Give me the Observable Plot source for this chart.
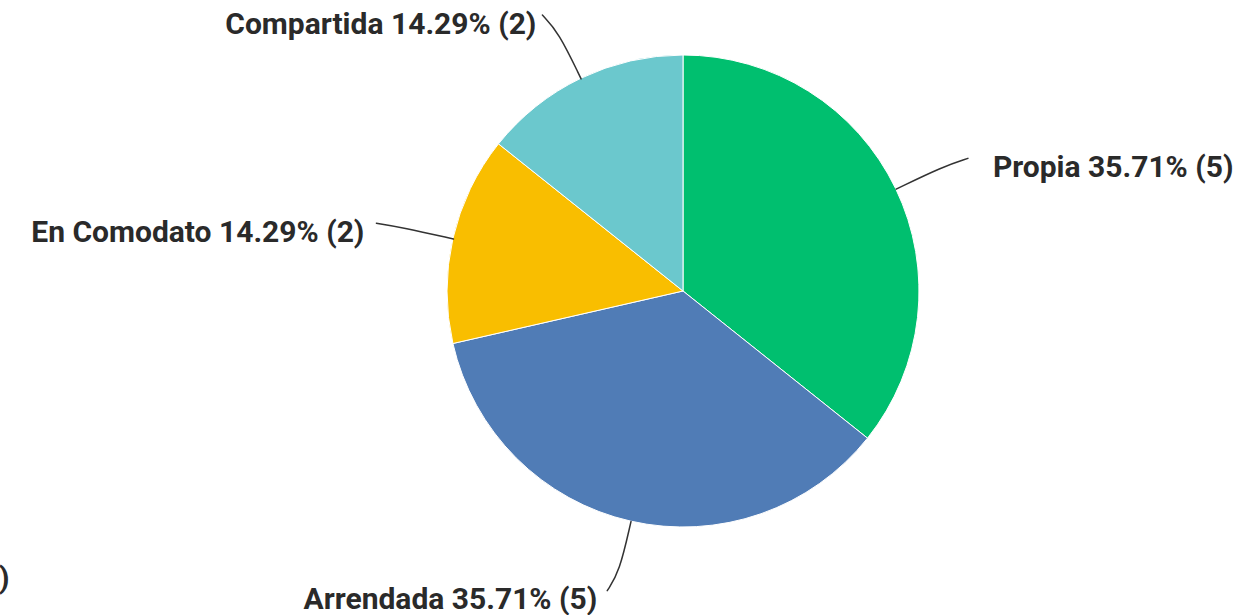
<!DOCTYPE html>
<html><head><meta charset="utf-8">
<script src="https://cdn.jsdelivr.net/npm/d3@7"></script>
<script src="https://cdn.jsdelivr.net/npm/@observablehq/plot@0.6"></script>
<style>html,body{margin:0;padding:0;background:#fff;overflow:hidden;}</style>
</head>
<body><div id="chart"></div>
<script>
// Data
const categories = ["Propia", "Arrendada", "En Comodato", "Compartida"];
const counts = [5, 5, 2, 2];
const colors = ["#00bf6f", "#507cb6", "#f9be00", "#6bc8cd"];

// Layout (pixels / relative radii, not data)
const W = 1258, H = 615, CX = 683, CY = 291, R = 236;
const CTRL_R = 1.22, END_R = 1.30, END_SHIFT = 8;
const labelGap = [25, 10, 12, 6];   // gap between leader end and label, px

const total = d3.sum(counts);
const pieArcs = d3.pie().sort(null).value(d => d)(counts);
const slices = categories.map((c, i) => {
  const mid = (pieArcs[i].startAngle + pieArcs[i].endAngle) / 2;
  const side = Math.sin(mid) > 0 ? 1 : -1;
  return {
    category: c, count: counts[i], pct: counts[i] / total * 100,
    start: pieArcs[i].startAngle, end: pieArcs[i].endAngle, mid, side,
    gap: labelGap[i]
  };
});
const polar = (a, r) => ({x: r * Math.sin(a), y: r * Math.cos(a)});
const endPoint = d => {
  const p = polar(d.mid, END_R);
  return {x: p.x + d.side * END_SHIFT / R, y: p.y};
};
const labelText = d => `${d.category} ${d.pct.toFixed(2)}% (${d.count})`;

// leader polylines (start on arc, radial control, end near label)
const leaders = slices.flatMap(d => [
  {category: d.category, ...polar(d.mid, 1)},
  {category: d.category, ...polar(d.mid, CTRL_R)},
  {category: d.category, ...endPoint(d)}
]);

function pieMark(index, scales) {
  const x0 = scales.x(0), y0 = scales.y(0), r = scales.x(1) - scales.x(0);
  const arc = d3.arc().innerRadius(0).outerRadius(r);
  const g = d3.create("svg:g").attr("transform", `translate(${x0},${y0})`);
  g.selectAll("path").data(slices).join("path")
    .attr("d", d => arc({startAngle: d.start, endAngle: d.end}))
    .attr("fill", (d, i) => scales.color ? scales.color(d.category) : colors[i])
    .attr("stroke", "#fff").attr("stroke-width", 1);
  return g.node();
}

const right = slices.filter(d => d.side > 0);
const left = slices.filter(d => d.side < 0);
const textOpts = {fontSize: 30, fontWeight: 700, fill: "#2a2a2a", fontFamily: "Roboto", lineAnchor: "middle", dy: 9};

const chart = Plot.plot({
  width: W, height: H,
  margin: 0,
  x: {type: "linear", domain: [-CX / R, (W - CX) / R], range: [0, W], axis: null},
  y: {type: "linear", domain: [-(H - CY) / R, CY / R], range: [H, 0], axis: null},
  color: {domain: categories, range: colors},
  style: {fontFamily: "Roboto", background: "#fff", overflow: "visible"},
  marks: [
    Plot.dot(slices, {x: 0, y: 0, r: 0, fill: "category"}),
    pieMark,
    Plot.line(leaders, {x: "x", y: "y", z: "category", curve: "basis", stroke: "#333", strokeWidth: 1.5}),
    Plot.text(right, {...textOpts, x: d => endPoint(d).x + d.gap / R, y: d => endPoint(d).y, text: labelText, textAnchor: "start"}),
    Plot.text(left, {...textOpts, x: d => endPoint(d).x - d.gap / R, y: d => endPoint(d).y, text: labelText, textAnchor: "end"}),
    Plot.text(["(0)"], {frameAnchor: "bottom-left", text: d => d, textAnchor: "end", dx: 9, dy: -28, fontSize: 30, fontWeight: 700, fill: "#2a2a2a", fontFamily: "Roboto"})
  ]
});
document.getElementById("chart").appendChild(chart);
</script>
</body></html>
